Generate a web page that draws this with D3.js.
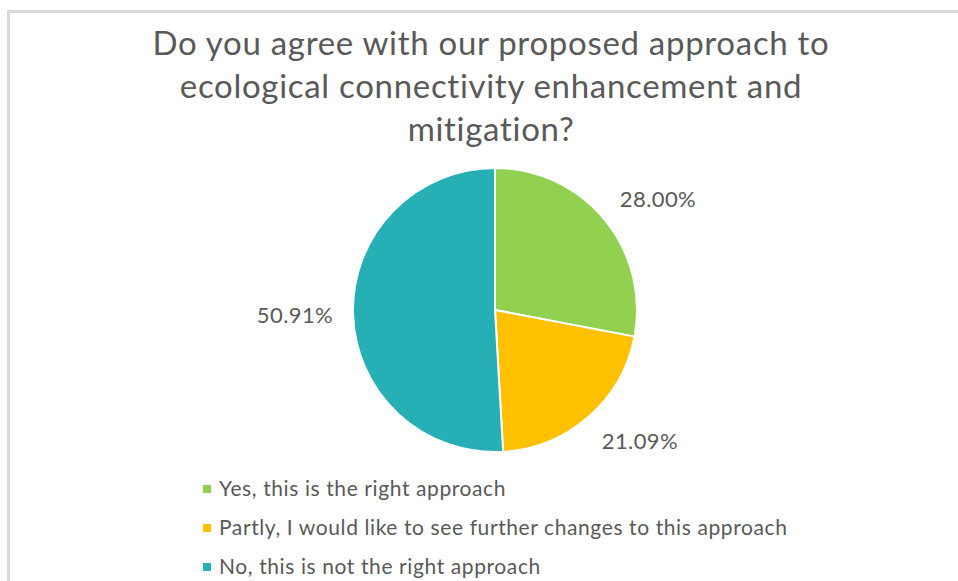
<!DOCTYPE html>
<html>
<head>
<meta charset="utf-8">
<script src="https://cdn.jsdelivr.net/npm/d3@7"></script>
<style>
  html, body { margin: 0; padding: 0; background: #ffffff; }
  svg { display: block; }
  text { font-family: Lato, "Open Sans", sans-serif; fill: #595959; }
</style>
</head>
<body>
<svg id="chart" width="958" height="581"></svg>
<script>
// Survey responses
const titleLines = [
  "Do you agree with our proposed approach to",
  "ecological connectivity enhancement and",
  "mitigation?"
];
const categories = [
  "Yes, this is the right approach",
  "Partly, I would like to see further changes to this approach",
  "No, this is not the right approach"
];
const shares = [28.00, 21.09, 50.91];
const colors = ["#92D050", "#FFC000", "#27AFB6"];

const width = 958, height = 581;
const svg = d3.select("#chart");

// chart area frame (top and left edges visible)
svg.append("rect")
  .attr("x", 8.5).attr("y", 11.5)
  .attr("width", 1200).attr("height", 1200)
  .attr("fill", "none")
  .attr("stroke", "#d9d9d9")
  .attr("stroke-width", 3);

// title
const title = svg.append("text")
  .attr("text-anchor", "middle")
  .style("font-size", "33px")
  .style("letter-spacing", "0.7px");
title.selectAll("tspan")
  .data(titleLines)
  .join("tspan")
  .attr("x", 491)
  .attr("y", (d, i) => 55 + i * 43)
  .text(d => d);

// pie
const cx = 495, cy = 310, radius = 142;
const pie = d3.pie().sort(null).value(d => d.value);
const arcs = pie(categories.map((c, i) => ({ name: c, value: shares[i], color: colors[i] })));
const arc = d3.arc().innerRadius(0).outerRadius(radius);

const g = svg.append("g").attr("transform", `translate(${cx},${cy})`);
g.selectAll("path")
  .data(arcs)
  .join("path")
  .attr("d", arc)
  .attr("fill", d => d.data.color)
  .attr("stroke", "#ffffff")
  .attr("stroke-width", 2)
  .attr("stroke-linejoin", "round");

// outside-end value labels
const labelR = radius + 20;
const fmt = d3.format(".2f");
g.selectAll("text.value")
  .data(arcs)
  .join("text")
  .attr("class", "value")
  .style("font-size", "22px")
  .style("letter-spacing", "0.4px")
  .each(function (d) {
    const a = (d.startAngle + d.endAngle) / 2;
    const s = Math.sin(a), c = Math.cos(a);
    const px = s * labelR, py = -c * labelR;
    const anchor = s > 0.15 ? "start" : (s < -0.15 ? "end" : "middle");
    const yc = py - c * 12;
    d3.select(this)
      .attr("x", px)
      .attr("y", yc)
      .attr("dy", "0.35em")
      .attr("text-anchor", anchor)
      .text(fmt(d.data.value) + "%");
  });

// legend
const legend = svg.append("g").attr("transform", "translate(203,489)");
const rows = legend.selectAll("g")
  .data(arcs)
  .join("g")
  .attr("transform", (d, i) => `translate(0,${i * 39})`);
rows.append("rect")
  .attr("x", 0).attr("y", -4)
  .attr("width", 8).attr("height", 8)
  .attr("fill", d => d.data.color);
rows.append("text")
  .attr("x", 16)
  .attr("dy", "0.35em")
  .style("font-size", "21px")
  .style("letter-spacing", "0.6px")
  .text(d => d.data.name);
</script>
</body>
</html>
